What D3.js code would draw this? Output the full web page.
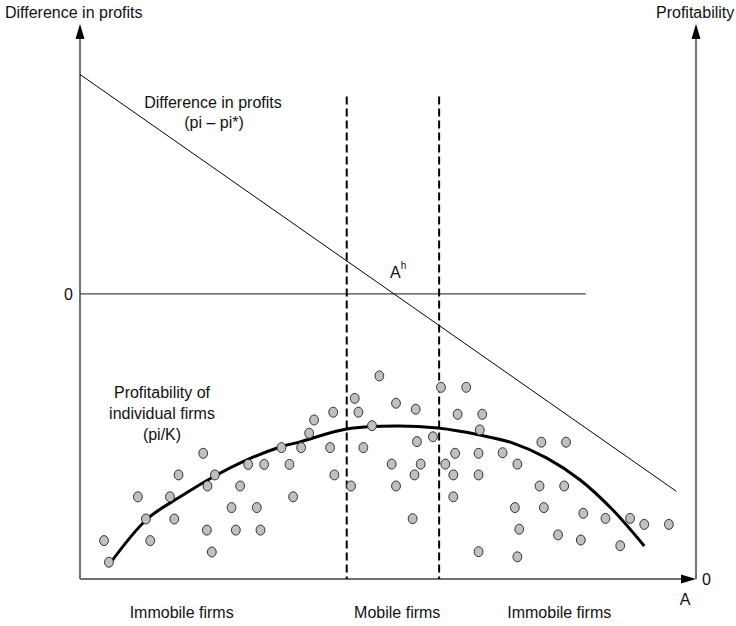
<!DOCTYPE html>
<html>
<head>
<meta charset="utf-8">
<script src="https://cdn.jsdelivr.net/npm/d3@7/dist/d3.min.js"></script>
<style>
  html, body { margin: 0; padding: 0; background: #fff; }
  svg { display: block; }
  text { font-family: "Liberation Sans", Arial, sans-serif; fill: #111; }
</style>
</head>
<body>
<svg id="chart" width="736" height="626"></svg>
<script>
// ---------- data ----------
// firm positions: A (productivity axis, 0-100) and profitability pi/K (0-100)
const firmA = [3.9,4.7,9.4,10.7,11.4,14.6,15.3,16.0,20.0,20.7,21.9,20.6,21.4,24.6,25.3,26.0,27.3,28.7,29.3,29.9,
  32.7,34.0,34.6,35.9,37.2,38.0,40.6,41.1,41.3,44.0,44.6,45.2,46.0,47.4,48.6,50.6,51.3,51.3,54.0,54.3,
  54.5,54.7,55.3,57.3,58.6,59.3,60.6,60.6,60.9,61.3,62.7,64.7,64.7,64.7,64.9,65.3,68.6,70.6,71.0,71.0,
  71.3,74.6,74.9,75.3,77.6,78.6,78.9,81.3,81.7,85.3,87.7,89.3,91.6,95.6];
const firmProfit = [12.8,5.6,27.4,20.0,12.8,27.4,20.0,34.7,41.9,31.0,34.7,16.3,9.0,23.8,16.3,31.0,38.2,23.8,16.3,38.2,
  43.8,38.2,27.4,43.8,48.6,53.0,43.8,55.6,34.7,31.0,60.2,55.6,43.8,51.1,67.7,38.3,58.6,31.0,20.1,34.7,
  56.6,45.8,38.3,47.4,63.9,38.3,34.7,27.4,41.9,54.9,63.9,41.9,34.7,9.1,49.7,54.9,42.1,23.8,38.3,7.4,
  16.6,31.0,45.6,23.8,14.7,31.0,45.6,13.0,21.9,20.2,11.1,20.2,18.2,18.2];

// average profitability curve
const curveA = [4.7,10.9,16.2,21.6,27.1,32.5,35.7,43.3,51.5,58.1,64.9,70.3,75.8,81.2,86.5,91.6];
const curveProfit = [4.7,20.0,27.3,34.0,39.7,44.0,45.7,50.0,51.0,50.3,48.0,45.3,40.3,33.0,23.0,11.0];

// difference in profits line (pi - pi*)
const diffA = [0, 96.8];
const diffValue = [1.0, -0.9];
const zeroLineA = [0, 82.1];

// thresholds delimiting mobile firms
const thresholdsA = [43.3, 58.3];
const thresholdTop = 0.9;

// labels
const regionLabels = [
  {text: "Immobile firms", a: 16.5},
  {text: "Mobile firms", a: 51.5},
  {text: "Immobile firms", a: 77.8}
];

// ---------- scales ----------
const svg = d3.select("#chart");
const x = d3.scaleLinear().domain([0, 100]).range([80, 696]);
const yDiff = d3.scaleLinear().domain([-1.3, 1.23]).range([579, 24]);
const yProf = d3.scaleLinear().domain([0, 100]).range([579, 279]);

const axisColor = "#707070";
const xL = x(0), xR = x(100), yB = yDiff(-1.3), yT = yDiff(1.23);

// ---------- axes ----------
svg.append("line").attr("x1", xL).attr("x2", xL).attr("y1", yB).attr("y2", yT + 10)
  .attr("stroke", axisColor).attr("stroke-width", 2);
svg.append("line").attr("x1", xR).attr("x2", xR).attr("y1", yB).attr("y2", yT + 10)
  .attr("stroke", axisColor).attr("stroke-width", 2);
svg.append("line").attr("x1", xL).attr("x2", xR - 10).attr("y1", yB).attr("y2", yB)
  .attr("stroke", axisColor).attr("stroke-width", 2);

function upArrow(cx, tip) {
  svg.append("path").attr("d", `M${cx},${tip} L${cx - 4.5},${tip + 15} L${cx + 4.5},${tip + 15} Z`).attr("fill", "#000");
}
upArrow(xL, yT);
upArrow(xR, yT);
svg.append("path").attr("d", `M${xR},${yB} L${xR - 15},${yB - 4.5} L${xR - 15},${yB + 4.5} Z`).attr("fill", "#000");

// zero line
svg.append("line")
  .attr("x1", x(zeroLineA[0])).attr("x2", x(zeroLineA[1]))
  .attr("y1", yDiff(0)).attr("y2", yDiff(0))
  .attr("stroke", "#444").attr("stroke-width", 1.3);

// dashed thresholds
svg.selectAll("line.thr").data(thresholdsA).join("line").attr("class", "thr")
  .attr("x1", d => x(d)).attr("x2", d => x(d))
  .attr("y1", yDiff(thresholdTop)).attr("y2", yB)
  .attr("stroke", "#000").attr("stroke-width", 2).attr("stroke-dasharray", "8,4");

// difference in profits line
svg.append("path")
  .attr("d", d3.line().x((d, i) => x(diffA[i])).y((d, i) => yDiff(diffValue[i]))(diffA))
  .attr("stroke", "#000").attr("stroke-width", 1).attr("fill", "none");

// profitability curve
svg.append("path")
  .attr("d", d3.line().curve(d3.curveCatmullRom).x((d, i) => x(curveA[i])).y((d, i) => yProf(curveProfit[i]))(curveA))
  .attr("stroke", "#000").attr("stroke-width", 3).attr("fill", "none");

// firms
svg.selectAll("ellipse.firm").data(firmA).join("ellipse").attr("class", "firm")
  .attr("cx", (d, i) => x(d)).attr("cy", (d, i) => yProf(firmProfit[i]))
  .attr("rx", 4.4).attr("ry", 5)
  .attr("fill", "#c0c0c0").attr("stroke", "#333").attr("stroke-width", 1);

// ---------- text ----------
const fs = 16;
svg.append("text").attr("x", 5).attr("y", 18).attr("font-size", fs).text("Difference in profits");
svg.append("text").attr("x", 656).attr("y", 18).attr("font-size", fs).text("Profitability");

svg.append("text").attr("x", 213).attr("y", 108).attr("font-size", fs).attr("text-anchor", "middle").text("Difference in profits");
svg.append("text").attr("x", 214).attr("y", 128).attr("font-size", fs).attr("text-anchor", "middle").text("(pi – pi*)");

const ah = svg.append("text").attr("x", 390).attr("y", 278).attr("font-size", fs);
ah.append("tspan").text("A");
ah.append("tspan").attr("dy", -9).attr("font-size", 10).text("h");

svg.append("text").attr("x", 73).attr("y", yDiff(0) + 6).attr("font-size", fs).attr("text-anchor", "end").text("0");
svg.append("text").attr("x", 702).attr("y", yB + 6).attr("font-size", fs).text("0");
svg.append("text").attr("x", 685).attr("y", 605).attr("font-size", fs).attr("text-anchor", "middle").text("A");

const prof = svg.append("text").attr("font-size", fs).attr("text-anchor", "middle");
[["Profitability of", 398], ["individual firms", 419], ["(pi/K)", 440]].forEach(([t, yy]) => {
  prof.append("tspan").attr("x", 162).attr("y", yy).text(t);
});

svg.selectAll("text.region").data(regionLabels).join("text").attr("class", "region")
  .attr("x", d => x(d.a)).attr("y", 618).attr("font-size", fs).attr("text-anchor", "middle")
  .text(d => d.text);
</script>
</body>
</html>
